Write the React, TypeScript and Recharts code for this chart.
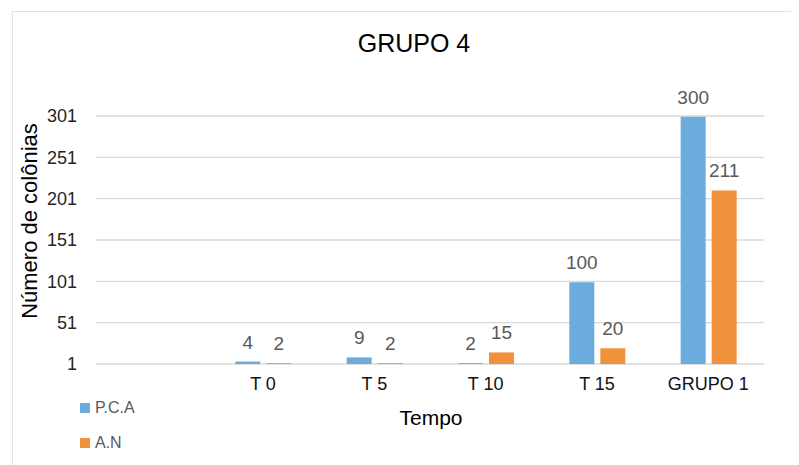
import React from "react"
import { BarChart, Bar, XAxis, YAxis, CartesianGrid, Legend, LabelList } from "recharts"

const categories = ["", "T 0", "T 5", "T 10", "T 15", "GRUPO 1"]
const pcaValues = [null, 4, 9, 2, 100, 300]
const anValues = [null, 2, 2, 15, 20, 211]
const yTicks = [1, 51, 101, 151, 201, 251, 301]

const data = categories.map((name, i) => ({ name, pca: pcaValues[i], an: anValues[i] }))

const FONT = "'Liberation Sans', Arial, Helvetica, sans-serif"
const BLUE = "#6cacdc"
const ORANGE = "#f0923c"

const seriesOrder = ["pca", "an"]
const seriesNames: Record<string, string> = { pca: "P.C.A", an: "A.N" }

// vertical legend in the bottom left corner, like the Excel export
const renderLegend = (props: any) => {
  const items = [...(props.payload || [])].sort(
    (a: any, b: any) => seriesOrder.indexOf(a.dataKey) - seriesOrder.indexOf(b.dataKey),
  )
  return (
    <div style={{ fontFamily: FONT }}>
      {items.map((item: any) => (
        <div
          key={item.value}
          style={{ display: "flex", alignItems: "center", height: 20, marginBottom: 15 }}
        >
          <span style={{ width: 10, height: 10, background: item.color, marginRight: 5 }} />
          <span style={{ fontSize: 16, color: "#595959" }}>{item.value}</span>
        </div>
      ))}
    </div>
  )
}

const fmt = (v: any) => (v == null ? "" : v)

export default function App() {
  return (
    <div style={{ position: "relative", width: 791, height: 457, overflow: "hidden", background: "#fff" }}>
      <div
        style={{
          position: "absolute",
          left: 4,
          top: 3,
          width: 900,
          height: 600,
          borderTop: "1px solid #e2e2e2",
          borderLeft: "1px solid #e2e2e2",
        }}
      />
      <div style={{ position: "absolute", left: 0, top: 0 }}>
        <BarChart
          width={791}
          height={457}
          data={data}
          margin={{ top: 108, right: 35, bottom: 71, left: 0 }}
          barSize={25}
          barGap={6}
        >
          <text x={406} y={44} textAnchor="middle" fontFamily={FONT} fontSize={25} fill="#000">
            GRUPO 4
          </text>
          <CartesianGrid vertical={false} stroke="#d9d9d9" strokeWidth={1.3} />
          <XAxis
            dataKey="name"
            axisLine={false}
            tickLine={false}
            tickSize={0}
            tickMargin={13}
            height={30}
            interval={0}
            tick={{ fill: "#111", fontSize: 18, fontFamily: FONT }}
            label={{
              content: (p: any) => {
                const vb = p.viewBox || { x: 88, width: 668, y: 356 }
                return (
                  <text
                    x={vb.x + vb.width / 2 + 1}
                    y={417}
                    textAnchor="middle"
                    fontFamily={FONT}
                    fontSize={21}
                    fill="#000"
                  >
                    Tempo
                  </text>
                )
              },
            }}
          />
          <YAxis
            width={88}
            domain={[1, 301]}
            ticks={yTicks}
            axisLine={false}
            tickLine={false}
            tickSize={0}
            tickMargin={19}
            tick={{ fill: "#262626", fontSize: 18, fontFamily: FONT }}
            label={{
              content: () => (
                <text
                  transform="translate(29,213) rotate(-90)"
                  textAnchor="middle"
                  fontFamily={FONT}
                  fontSize={22}
                  fill="#000"
                >
                  Número de colônias
                </text>
              ),
            }}
          />
          <Legend
            layout="vertical"
            align="center"
            verticalAlign="middle"
            content={renderLegend}
            wrapperStyle={{ left: 72, top: 390, width: 120, height: 70 }}
          />
          <Bar dataKey="pca" name={seriesNames.pca} fill={BLUE} isAnimationActive={false}>
            <LabelList
              dataKey="pca"
              position="top"
              offset={13}
              formatter={fmt}
              fill="#595959"
              fontSize={19}
              fontFamily={FONT}
            />
          </Bar>
          <Bar dataKey="an" name={seriesNames.an} fill={ORANGE} isAnimationActive={false}>
            <LabelList
              dataKey="an"
              position="top"
              offset={13}
              formatter={fmt}
              fill="#595959"
              fontSize={19}
              fontFamily={FONT}
            />
          </Bar>
        </BarChart>
      </div>
    </div>
  )
}
